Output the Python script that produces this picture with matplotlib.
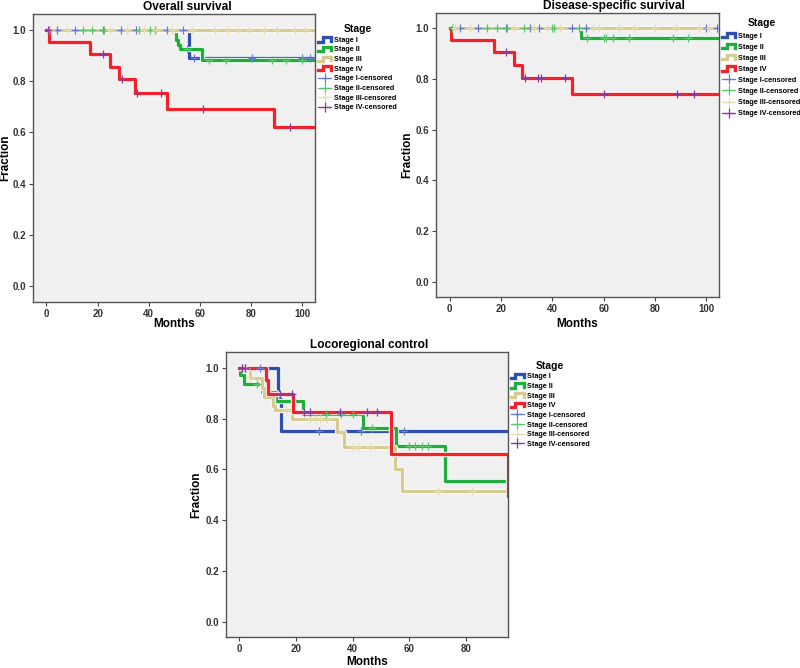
import numpy as np
import matplotlib
matplotlib.use("Agg")
import matplotlib.pyplot as plt
import matplotlib.patheffects as pe
from matplotlib.lines import Line2D
from matplotlib.legend_handler import HandlerBase

plt.rcParams["font.family"] = ["Liberation Sans Narrow", "Liberation Sans", "DejaVu Sans"]

stages = ["Stage I", "Stage II", "Stage III", "Stage IV"]
line_colors = ["#2e4fae", "#1fae3c", "#d6cc92", "#f0222c"]
cens_colors = ["#6678d0", "#5cc46a", "#e4dcae", "#8a3c9c"]

# Overall survival: event times, survival after event, censor times
os1_t = [55.7]
os1_s = [0.889]
os1_c = [4.2, 11, 22, 29, 35, 47, 53.3, 57.8, 80.4, 100, 103]
os2_t = [50.8, 51.5, 52.3, 60.6]
os2_s = [0.962, 0.943, 0.924, 0.881]
os2_c = [1, 14.5, 18, 22.5, 36, 40.5, 42.5, 55, 63.5, 70, 88, 93.5, 100]
os3_t = []
os3_s = []
os3_c = [2, 8, 25, 31.5, 38, 43, 49, 57, 66, 71, 75, 79, 85, 90, 97, 101]
os4_t = [1, 17, 24.8, 28.4, 34.8, 47.3, 88.9]
os4_s = [0.953, 0.906, 0.857, 0.808, 0.752, 0.691, 0.622]
os4_c = [0.5, 22, 29.7, 35.5, 44.9, 61.3, 95.2]

# Disease-specific survival
ds1_t = []
ds1_s = []
ds1_c = [4, 11, 22, 31.5, 35, 47.5, 53, 100, 104]
ds2_t = [51.3]
ds2_s = [0.962]
ds2_c = [1, 14.5, 18.5, 22.5, 29, 40, 40.5, 50.5, 53.5, 60, 61, 63.5, 70, 87, 93]
ds3_t = []
ds3_s = []
ds3_c = [2, 8, 25, 33, 38, 43, 56, 58, 66, 72, 80, 88, 97, 101]
ds4_t = [0.7, 17.2, 25, 28.3, 47.5]
ds4_s = [0.954, 0.906, 0.856, 0.804, 0.739]
ds4_c = [21.8, 29.3, 34.5, 35.6, 44.8, 60, 88.7, 95]

# Locoregional control
lc1_t = [13.8, 14.8]
lc1_s = [0.875, 0.751]
lc1_c = [1.2, 2, 7.5, 28.2, 42.9, 58.3]
lc2_t = [0.3, 1.6, 8.2, 13, 22.6, 43.8, 55.4, 72.7]
lc2_s = [0.973, 0.937, 0.903, 0.868, 0.818, 0.761, 0.691, 0.552]
lc2_c = [6.5, 30.5, 36, 40.3, 47, 60, 62, 64.5, 66.5]
lc3_t = [4, 8, 8.7, 11.8, 12.6, 18.7, 34.7, 37.1, 54.8, 57.4]
lc3_s = [0.96, 0.92, 0.885, 0.85, 0.833, 0.799, 0.747, 0.686, 0.601, 0.516]
lc3_c = [2.5, 4, 16.5, 25, 27, 28.5, 31, 40, 42, 46, 70, 82]
lc4_t = [9.4, 10.2, 19, 53.6, 94.8]
lc4_s = [0.95, 0.897, 0.827, 0.662, 0.494]
lc4_c = [1, 2, 14.5, 18.5, 23, 25, 35.5, 45, 48.5]


class StepHandler(HandlerBase):
    def create_artists(self, legend, orig_handle, xdescent, ydescent,
                       width, height, fontsize, trans):
        w, h = width, height
        xs = np.array([0, 0.35, 0.35, 1.0, 1.0]) * w - xdescent
        ys = np.array([0.05, 0.05, 0.9, 0.9, 0.2]) * h - ydescent
        ln = Line2D(xs, ys, color=orig_handle.get_color(), lw=2.4,
                    solid_joinstyle="miter", transform=trans)
        return [ln]


def draw_panel(ax, title, curves, xmax, xticks, spacing, xlab_y, ylab_x, title_x, leg_y):
    ax.set_facecolor("#f0f0f0")
    for i, (t, s, c) in enumerate(curves):
        xs = [0] + t + [xmax]
        ys = [1.0] + s + [s[-1] if s else 1.0]
        ax.step(xs, ys, where="post", color=line_colors[i], lw=2.4,
                zorder=2 + i * 0.1,
                path_effects=[pe.Stroke(linewidth=3.8, foreground="white"), pe.Normal()])
    for i, (t, s, c) in enumerate(curves):
        tt = np.array([0] + t)
        ss = np.array([1.0] + s)
        cy = [ss[np.searchsorted(tt, v, side="right") - 1] for v in c]
        ax.plot(c, cy, ls="none", marker="+", ms=5.5, mew=0.9,
                color=cens_colors[i], zorder=4)
    ax.set_xlim(-5.3 if xmax > 100 else -4.6, xmax)
    ax.set_ylim(-0.062, 1.062)
    ax.set_xticks(xticks)
    ax.set_yticks([0.0, 0.2, 0.4, 0.6, 0.8, 1.0])
    ax.set_yticklabels(["0.0", "0.2", "0.4", "0.6", "0.8", "1.0"])
    ax.tick_params(labelsize=7, length=3, width=0.8, color="#444444", pad=2)
    for lab in ax.get_xticklabels() + ax.get_yticklabels():
        lab.set_fontweight("bold")
        lab.set_color("#333333")
    for sp in ax.spines.values():
        sp.set_color("#555555")
        sp.set_linewidth(1.0)
    ax.set_title(title, fontsize=8.6, fontweight="bold", pad=3, x=title_x)
    ax.set_xlabel("Months", fontsize=8.5, fontweight="bold")
    ax.set_ylabel("Fraction", fontsize=8.5, fontweight="bold")
    ax.xaxis.set_label_coords(0.5, xlab_y)
    ax.yaxis.set_label_coords(ylab_x, 0.5)

    handles = [Line2D([], [], color=line_colors[i]) for i in range(4)]
    handles += [Line2D([], [], color=cens_colors[i], lw=0.9, marker="+",
                       ms=7, mew=0.9) for i in range(4)]
    labels = stages + [s + "-censored" for s in stages]
    hmap = {h: StepHandler() for h in handles[:4]}
    leg = ax.legend(handles, labels, handler_map=hmap, loc="upper left",
                    bbox_to_anchor=(1.0, leg_y), frameon=False, title="Stage",
                    fontsize=5.2, handlelength=1.8, handletextpad=0.4,
                    labelspacing=spacing, borderaxespad=0.2, borderpad=0.2)
    leg.get_title().set_fontweight("bold")
    leg.get_title().set_fontsize(7.5)
    for txt in leg.get_texts():
        txt.set_fontweight("bold")


fig = plt.figure(figsize=(8, 6.68), dpi=100)
ax1 = fig.add_axes([0.041, 0.548, 0.353, 0.431])
ax2 = fig.add_axes([0.545, 0.555, 0.354, 0.426])
ax3 = fig.add_axes([0.2825, 0.046, 0.3525, 0.427])

draw_panel(ax1, "Overall survival",
           [(os1_t, os1_s, os1_c), (os2_t, os2_s, os2_c),
            (os3_t, os3_s, os3_c), (os4_t, os4_s, os4_c)],
           105, [0, 20, 40, 60, 80, 100], 0.36, -0.056, -0.075, 0.548, 0.975)
draw_panel(ax2, "Disease-specific survival",
           [(ds1_t, ds1_s, ds1_c), (ds2_t, ds2_s, ds2_c),
            (ds3_t, ds3_s, ds3_c), (ds4_t, ds4_s, ds4_c)],
           105, [0, 20, 40, 60, 80, 100], 0.56, -0.074, -0.081, 0.629, 0.99)
draw_panel(ax3, "Locoregional control",
           [(lc1_t, lc1_s, lc1_c), (lc2_t, lc2_s, lc2_c),
            (lc3_t, lc3_s, lc3_c), (lc4_t, lc4_s, lc4_c)],
           94.8, [0, 20, 40, 60, 80], 0.36, -0.066, -0.085, 0.507, 0.98)

fig.savefig("out.png", dpi=100, facecolor="white")
